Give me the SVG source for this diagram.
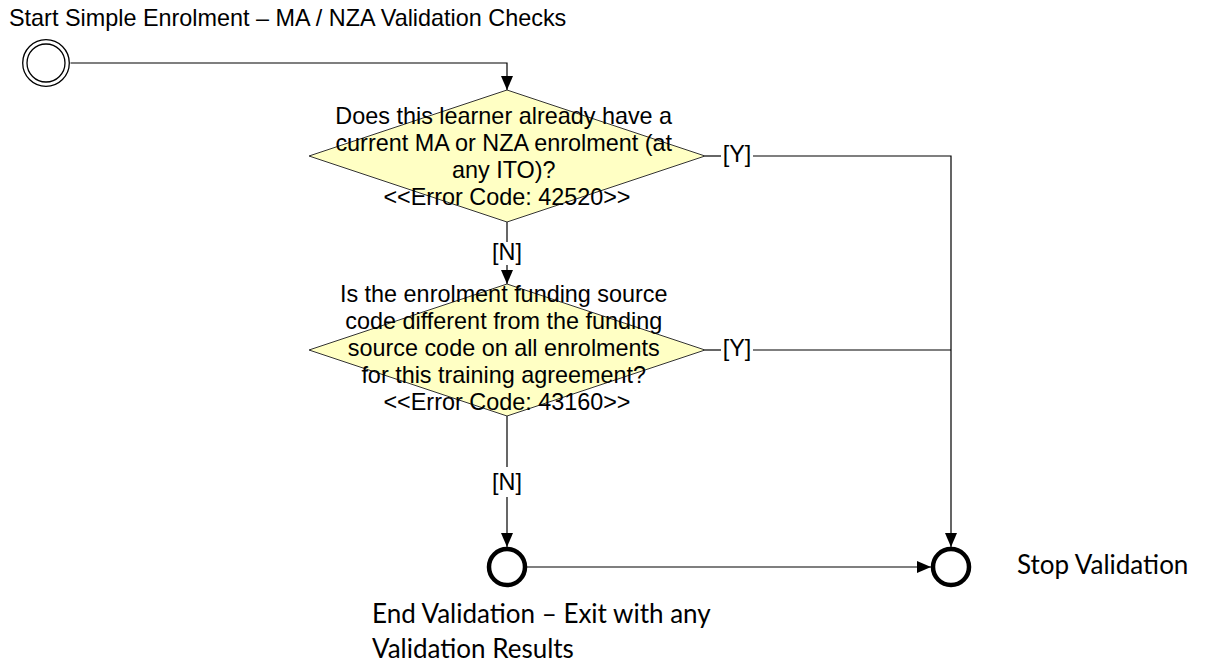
<svg xmlns="http://www.w3.org/2000/svg" width="1206" height="664" viewBox="0 0 1206 664">
<style>
.t{font-family:"Liberation Sans",Arial,sans-serif;font-size:23.4px;fill:#000}
.c{font-family:Lato,"Noto Sans",sans-serif;font-size:26px;fill:#000}
.dia{fill:#FFFFC4;stroke:#333;stroke-width:1}
.ln{fill:none;stroke:#000;stroke-width:1.2}
.end{fill:#fff;stroke:#000;stroke-width:4.5}
</style>
<defs>
<marker id="ah" viewBox="0 0 14 12" refX="14" refY="6" markerWidth="14" markerHeight="12" markerUnits="userSpaceOnUse" orient="auto">
<path d="M0,0 L14,6 L0,12 Z" fill="#000"/>
</marker>
</defs>
<rect width="1206" height="664" fill="#fff"/>
<g id="connectors">
<path class="ln" d="M70.5,63 H507 V90" marker-end="url(#ah)"/>
<path class="ln" d="M507,222 V242"/>
<path class="ln" d="M507,265 V284" marker-end="url(#ah)"/>
<path class="ln" d="M705,156 H721"/>
<path class="ln" d="M753,156 H951 V547" marker-end="url(#ah)"/>
<path class="ln" d="M705,350 H721"/>
<path class="ln" d="M753,350 H951"/>
<path class="ln" d="M507,416 V467"/>
<path class="ln" d="M507,497 V547" marker-end="url(#ah)"/>
<path class="ln" d="M527,567 H931" marker-end="url(#ah)"/>
<text class="t" x="737" y="162" text-anchor="middle">[Y]</text>
<text class="t" x="737" y="356" text-anchor="middle">[Y]</text>
<text class="t" x="507" y="260" text-anchor="middle">[N]</text>
<text class="t" x="507" y="490" text-anchor="middle">[N]</text>
</g>
<g id="start">
<text class="t" x="9" y="26">Start Simple Enrolment – MA / NZA Validation Checks</text>
<circle cx="46" cy="63" r="23.3" fill="#fff" stroke="#000" stroke-width="1.3"/>
<circle cx="46" cy="63" r="19" fill="none" stroke="#000" stroke-width="1.3"/>
</g>
<g id="decision1">
<polygon class="dia" points="507,90 705,156 507,222 309,156"/>
<text class="t" text-anchor="middle">
<tspan x="507" y="124">Does this learner already have a</tspan>
<tspan x="507" y="151">current MA or NZA enrolment (at</tspan>
<tspan x="507" y="178">any ITO)?</tspan>
<tspan x="507" y="205">&lt;&lt;Error Code: 42520&gt;&gt;</tspan>
</text>
</g>
<g id="decision2">
<polygon class="dia" points="507,284 705,350 507,416 309,350"/>
<text class="t" text-anchor="middle">
<tspan x="507" y="302">Is the enrolment funding source</tspan>
<tspan x="507" y="329">code different from the funding</tspan>
<tspan x="507" y="356">source code on all enrolments</tspan>
<tspan x="507" y="383">for this training agreement?</tspan>
<tspan x="507" y="410">&lt;&lt;Error Code: 43160&gt;&gt;</tspan>
</text>
</g>
<g id="endValidation">
<circle class="end" cx="507" cy="567" r="18"/>
<text class="c"><tspan x="372" y="623">End Validation – Exit with any</tspan><tspan x="372" y="658">Validation Results</tspan></text>
</g>
<g id="stopValidation">
<circle class="end" cx="951" cy="567" r="18"/>
<text class="c" x="1017" y="574">Stop Validation</text>
</g>
</svg>
